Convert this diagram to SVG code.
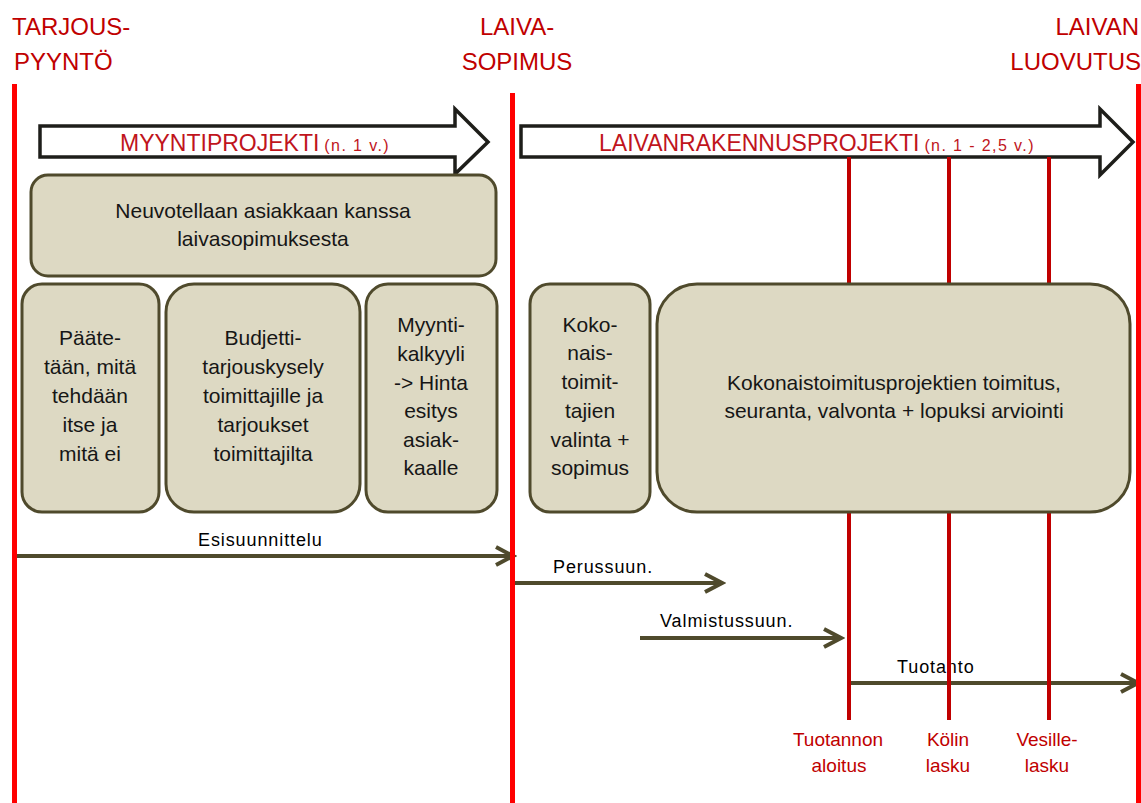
<svg xmlns="http://www.w3.org/2000/svg" width="1141" height="803" viewBox="0 0 1141 803">
  <style>
    .hdr { font-family: "Liberation Sans", Arial, sans-serif; font-size: 24px; fill: #c00000; }
    .mile { font-family: "Liberation Sans", Arial, sans-serif; font-size: 19px; fill: #c00000; text-anchor: middle; }
    .phase { font-family: "Liberation Sans", Arial, sans-serif; font-size: 23px; fill: #c0141c; }
    .phase .dur { font-size: 16px; letter-spacing: 1.4px; }
    .box rect { fill: #ddd9c3; stroke: #4f4a2c; stroke-width: 3; }
    .box text { font-family: "Liberation Sans", Arial, sans-serif; font-size: 21px; fill: #161616; text-anchor: middle; }
    .bigarrow { fill: #ffffff; stroke: #1e1e1a; stroke-width: 3.5; stroke-linejoin: miter; }
    .gate { stroke: #ff0000; stroke-width: 5; }
    .ms { stroke: #c00000; stroke-width: 4; }
    .conn line { stroke: #4f4a2c; stroke-width: 4; marker-end: url(#chev); }
    .conn text { font-family: "Liberation Sans", Arial, sans-serif; font-size: 18px; fill: #000; letter-spacing: 0.9px; }
  </style>
  <defs>
    <marker id="chev" markerUnits="userSpaceOnUse" viewBox="-20 -12 24 24" refX="-2" refY="0" markerWidth="24" markerHeight="24" orient="auto">
      <path d="M -17 -9 L 0 0 L -17 9" fill="none" stroke="#4f4a2c" stroke-width="4" stroke-linejoin="miter"/>
    </marker>
  </defs>

  <rect width="1141" height="803" fill="#ffffff"/>

  <!-- milestone headings -->
  <g id="hdr-tarjouspyynto">
    <text class="hdr" x="12" y="35">TARJOUS-</text>
    <text class="hdr" x="14" y="70">PYYNTÖ</text>
  </g>
  <g id="hdr-laivasopimus">
    <text class="hdr" x="517" y="35" text-anchor="middle">LAIVA-</text>
    <text class="hdr" x="517" y="70" text-anchor="middle">SOPIMUS</text>
  </g>
  <g id="hdr-luovutus">
    <text class="hdr" x="1139" y="35" text-anchor="end">LAIVAN</text>
    <text class="hdr" x="1141" y="70" text-anchor="end">LUOVUTUS</text>
  </g>

  <!-- phase arrows -->
  <g id="phase-myynti">
    <path class="bigarrow" d="M 40 126 L 455 126 L 455 109 L 488 142 L 455 174 L 455 157 L 40 157 Z"/>
    <text class="phase" x="120" y="151">MYYNTIPROJEKTI<tspan class="dur" dx="5">(n. 1 v.)</tspan></text>
  </g>
  <g id="phase-rakennus">
    <path class="bigarrow" d="M 521 126 L 1100 126 L 1100 109 L 1133 142 L 1100 175 L 1100 157 L 521 157 Z"/>
    <text class="phase" x="599" y="151">LAIVANRAKENNUSPROJEKTI<tspan class="dur" dx="5">(n. 1 - 2,5 v.)</tspan></text>
  </g>

  <!-- design / production timeline connectors -->
  <g id="connectors" class="conn">
    <line x1="14" y1="556" x2="511" y2="556"/>
    <text x="198" y="546">Esisuunnittelu</text>
    <line x1="513" y1="583" x2="720" y2="583"/>
    <text x="553" y="573">Perussuun.</text>
    <line x1="640" y1="638" x2="839" y2="638"/>
    <text x="660" y="627">Valmistussuun.</text>
    <line x1="849" y1="683" x2="1136" y2="683"/>
    <text x="897" y="673">Tuotanto</text>
  </g>

  <!-- production milestones -->
  <g id="ms-aloitus">
    <line class="ms" x1="849" y1="157" x2="849" y2="720"/>
    <text class="mile" x="838" y="746">Tuotannon</text>
    <text class="mile" x="839" y="772">aloitus</text>
  </g>
  <g id="ms-kolin">
    <line class="ms" x1="949" y1="157" x2="949" y2="720"/>
    <text class="mile" x="948" y="746">Kölin</text>
    <text class="mile" x="948" y="772">lasku</text>
  </g>
  <g id="ms-vesille">
    <line class="ms" x1="1049" y1="157" x2="1049" y2="720"/>
    <text class="mile" x="1047" y="746">Vesille-</text>
    <text class="mile" x="1047" y="772">lasku</text>
  </g>

  <!-- gate lines -->
  <g id="gates">
    <line class="gate" x1="14.5" y1="84" x2="14.5" y2="803"/>
    <line class="gate" x1="512.5" y1="93" x2="512.5" y2="803"/>
    <line class="gate" x1="1138.5" y1="84" x2="1138.5" y2="803"/>
  </g>

  <!-- activity boxes -->
  <g id="box-neuvottelu" class="box">
    <rect x="31" y="175" width="465" height="101" rx="17"/>
    <text x="263" y="218">Neuvotellaan asiakkaan kanssa</text>
    <text x="263" y="246">laivasopimuksesta</text>
  </g>
  <g id="box-paatetaan" class="box">
    <rect x="22" y="284" width="137" height="228" rx="20"/>
    <text x="90" y="345">Pääte-</text>
    <text x="90" y="374">tään, mitä</text>
    <text x="90" y="403">tehdään</text>
    <text x="90" y="432">itse ja</text>
    <text x="90" y="461">mitä ei</text>
  </g>
  <g id="box-budjetti" class="box">
    <rect x="166" y="284" width="194" height="228" rx="28"/>
    <text x="263" y="345">Budjetti-</text>
    <text x="263" y="374">tarjouskysely</text>
    <text x="263" y="403">toimittajille ja</text>
    <text x="263" y="432">tarjoukset</text>
    <text x="263" y="461">toimittajilta</text>
  </g>
  <g id="box-kalkyyli" class="box">
    <rect x="366" y="284" width="131" height="228" rx="22"/>
    <text x="431" y="332">Myynti-</text>
    <text x="431" y="361">kalkyyli</text>
    <text x="431" y="390">-&gt; Hinta</text>
    <text x="431" y="418">esitys</text>
    <text x="431" y="447">asiak-</text>
    <text x="431" y="475">kaalle</text>
  </g>
  <g id="box-valinta" class="box">
    <rect x="530" y="284" width="120" height="228" rx="20"/>
    <text x="590" y="332">Koko-</text>
    <text x="590" y="360">nais-</text>
    <text x="590" y="389">toimit-</text>
    <text x="590" y="418">tajien</text>
    <text x="590" y="447">valinta +</text>
    <text x="590" y="475">sopimus</text>
  </g>
  <g id="box-toimitus" class="box">
    <rect x="657" y="284" width="473" height="228" rx="40"/>
    <text x="894" y="390">Kokonaistoimitusprojektien toimitus,</text>
    <text x="894" y="418">seuranta, valvonta + lopuksi arviointi</text>
  </g>
</svg>
